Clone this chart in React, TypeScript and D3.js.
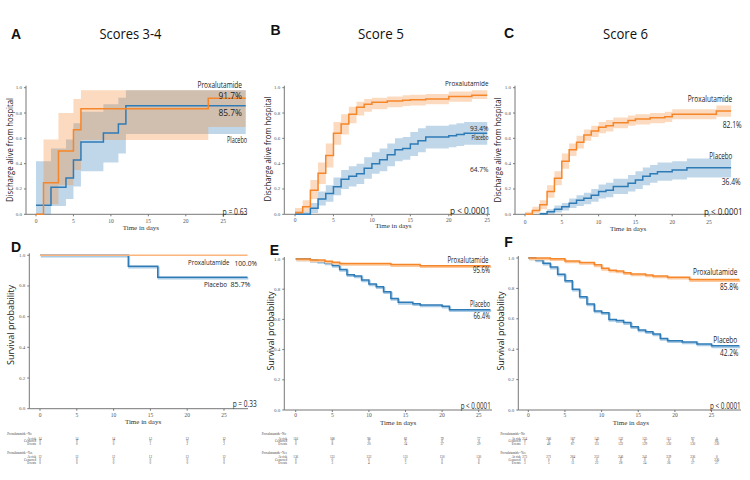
import React, { useEffect, useRef } from "react";
import * as d3 from "d3";

// ---- data ----
// A: scores 3-4, discharge alive from hospital
const aProxTimes = [0, 1, 3, 5, 6, 23];
const aProxSurv = [0, 0.25, 0.5, 0.667, 0.833, 0.917];
const aProxLower = [0, 0.08, 0.23, 0.35, 0.587, 0.69];
const aProxUpper = [0, 0.59, 0.8, 0.91, 0.98, 0.98];
const aPlacTimes = [0, 2, 4, 5, 6, 9, 11, 12];
const aPlacSurv = [0.071, 0.214, 0.286, 0.429, 0.571, 0.643, 0.714, 0.857];
const aPlacLower = [0, 0.066, 0.12, 0.22, 0.34, 0.41, 0.48, 0.634];
const aPlacUpper = [0.42, 0.52, 0.59, 0.72, 0.81, 0.87, 0.92, 0.98];

// B: score 5
const bProxTimes = [0, 1, 2, 3, 4, 5, 6, 7, 8, 9, 10, 12, 14, 15, 17, 20, 23];
const bProxSurv = [0.014, 0.06, 0.19, 0.325, 0.465, 0.64, 0.713, 0.79, 0.845, 0.87, 0.885, 0.895, 0.9, 0.905, 0.91, 0.93, 0.94];
const bProxLower = [0, 0.02, 0.12, 0.24, 0.37, 0.55, 0.63, 0.72, 0.78, 0.81, 0.83, 0.845, 0.855, 0.86, 0.87, 0.89, 0.91];
const bProxUpper = [0.05, 0.11, 0.27, 0.41, 0.56, 0.73, 0.79, 0.85, 0.89, 0.91, 0.92, 0.93, 0.94, 0.945, 0.95, 0.97, 0.98];
const bPlacTimes = [0, 2, 3, 4, 5, 6, 7, 8, 9, 10, 11, 12, 13, 14, 15, 16, 17, 20, 21, 22];
const bPlacSurv = [0, 0.047, 0.12, 0.165, 0.218, 0.276, 0.3, 0.32, 0.363, 0.4, 0.43, 0.47, 0.51, 0.52, 0.555, 0.58, 0.61, 0.62, 0.63, 0.64];
const bPlacLower = [0, 0.01, 0.07, 0.1, 0.15, 0.2, 0.22, 0.24, 0.28, 0.32, 0.34, 0.38, 0.42, 0.43, 0.46, 0.49, 0.52, 0.53, 0.54, 0.55];
const bPlacUpper = [0.02, 0.09, 0.18, 0.23, 0.29, 0.35, 0.38, 0.4, 0.45, 0.49, 0.52, 0.56, 0.6, 0.61, 0.65, 0.68, 0.7, 0.71, 0.72, 0.73];

// C: score 6
const cProxTimes = [0, 1, 2, 3, 4, 5, 6, 7, 8, 9, 10, 11, 12, 14, 15, 17, 19, 20, 26];
const cProxSurv = [0, 0.03, 0.075, 0.18, 0.285, 0.42, 0.51, 0.57, 0.626, 0.658, 0.687, 0.7, 0.724, 0.74, 0.753, 0.763, 0.77, 0.79, 0.815];
const cProxLower = [0, 0.01, 0.04, 0.13, 0.23, 0.36, 0.46, 0.52, 0.58, 0.61, 0.64, 0.655, 0.68, 0.7, 0.71, 0.72, 0.73, 0.75, 0.77];
const cProxUpper = [0.02, 0.06, 0.11, 0.23, 0.34, 0.48, 0.56, 0.62, 0.67, 0.7, 0.73, 0.745, 0.765, 0.78, 0.79, 0.8, 0.81, 0.83, 0.86];
const cPlacTimes = [2, 3, 4, 5, 6, 7, 8, 9, 10, 11, 12, 14, 15, 16, 17, 18, 20, 22];
const cPlacSurv = [0.005, 0.02, 0.04, 0.06, 0.087, 0.11, 0.126, 0.15, 0.18, 0.19, 0.22, 0.245, 0.27, 0.3, 0.32, 0.337, 0.35, 0.368];
const cPlacLower = [0, 0.005, 0.015, 0.03, 0.05, 0.065, 0.08, 0.1, 0.125, 0.135, 0.16, 0.18, 0.2, 0.23, 0.25, 0.265, 0.275, 0.29];
const cPlacUpper = [0.015, 0.04, 0.07, 0.09, 0.125, 0.15, 0.17, 0.2, 0.235, 0.25, 0.28, 0.31, 0.34, 0.37, 0.39, 0.41, 0.42, 0.44];

// D-F: survival probability
const dProxTimes = [0];
const dProxSurv = [1];
const dPlacTimes = [0, 12, 16];
const dPlacSurv = [1, 0.929, 0.857];
const eProxTimes = [0, 2, 4, 5, 6, 13, 17];
const eProxSurv = [1, 0.993, 0.985, 0.978, 0.971, 0.963, 0.956];
const ePlacTimes = [0, 2, 3, 4, 5, 6, 7, 8, 9, 10, 11, 12, 13, 14, 16, 17, 20, 21];
const ePlacSurv = [1, 0.991, 0.983, 0.974, 0.957, 0.93, 0.896, 0.887, 0.861, 0.835, 0.817, 0.783, 0.739, 0.713, 0.704, 0.696, 0.687, 0.664];
const fProxTimes = [0, 3, 5, 7, 9, 10, 11, 12, 13, 14, 16, 17, 19, 22];
const fProxSurv = [1, 0.995, 0.98, 0.97, 0.955, 0.932, 0.92, 0.914, 0.903, 0.895, 0.888, 0.882, 0.873, 0.858];
const fPlacTimes = [0, 1, 2, 3, 4, 5, 6, 7, 8, 9, 10, 11, 12, 13, 14, 15, 16, 17, 18, 19, 21, 23, 25];
const fPlacSurv = [1, 0.987, 0.965, 0.94, 0.893, 0.85, 0.794, 0.745, 0.697, 0.651, 0.64, 0.596, 0.588, 0.575, 0.548, 0.526, 0.515, 0.5, 0.471, 0.456, 0.447, 0.434, 0.422];

// risk tables
const riskRows = ["At risk", "Censored", "Events"];
const riskGroups = ["Proxalutamide=No", "Proxalutamide=Yes"];
const dNoRisk = [[14, 14, 14, 13, 12, 12], [0, 0, 0, 0, 0, 0], [0, 0, 0, 1, 2, 2]];
const dYesRisk = [[12, 12, 12, 12, 12, 12], [0, 0, 0, 0, 0, 0], [0, 0, 0, 0, 0, 0]];
const eNoRisk = [[116, 108, 96, 82, 79, 77], [0, 0, 0, 0, 0, 0], [0, 8, 20, 34, 37, 39]];
const eYesRisk = [[136, 133, 132, 131, 130, 130], [0, 0, 0, 0, 0, 0], [0, 3, 4, 5, 6, 6]];
const fNoRisk = [[254, 206, 167, 143, 132, 125, 115, 97, 0], [0, 0, 0, 0, 0, 0, 0, 0, 86], [1, 48, 87, 111, 122, 129, 130, 130, 130]];
const fYesRisk = [[273, 271, 264, 253, 246, 241, 239, 236, 0], [0, 0, 0, 0, 0, 0, 0, 0, 236], [3, 5, 11, 22, 28, 34, 36, 37, 37]];

const xTicks = [0, 5, 10, 15, 20, 25];
const yTicks = [0, 0.2, 0.4, 0.6, 0.8, 1.0];

const ORANGE = "#f5862a";
const BLUE = "#2f7bb6";
const SANS = "'Open Sans', 'Liberation Sans', sans-serif";
const SERIF = "'Liberation Serif', 'DejaVu Serif', serif";

const App = () => {
  const ref = useRef<SVGSVGElement>(null);

  useEffect(() => {
    const svg = d3.select(ref.current);
    svg.selectAll("*").remove();

    const label = (text, x, y, opts: any = {}) => {
      const t = svg
        .append("text")
        .attr("x", x)
        .attr("y", y)
        .attr("font-family", opts.family || SANS)
        .attr("font-size", opts.size || 8.5)
        .attr("font-weight", opts.weight || "normal")
        .attr("fill", opts.fill || "#222")
        .attr("text-anchor", opts.anchor || "start")
        .attr("dominant-baseline", "central")
        .text(text);
      if (opts.len) t.attr("textLength", opts.len).attr("lengthAdjust", "spacingAndGlyphs");
      if (opts.rotate) t.attr("transform", `rotate(-90,${x},${y})`);
      return t;
    };

    const drawPanel = (p, series, texts) => {
      const x = d3.scaleLinear().domain([0, 25]).range([p.x0, p.x0 + 25 * p.ppd]);
      const y = d3.scaleLinear().domain([0, 1]).range([p.yBottom, p.yTop]);
      const g = svg.append("g");

      // axes
      g.append("line").attr("x1", p.axisX).attr("x2", p.axisX).attr("y1", p.yTop - 2).attr("y2", p.yBottom).attr("stroke", "#777").attr("stroke-width", 1);
      g.append("line").attr("x1", p.axisX).attr("x2", p.xEnd).attr("y1", p.yBottom).attr("y2", p.yBottom).attr("stroke", "#777").attr("stroke-width", 1);
      xTicks.forEach((t) => {
        g.append("line").attr("x1", x(t)).attr("x2", x(t)).attr("y1", p.yBottom).attr("y2", p.yBottom + 2).attr("stroke", "#777");
        g.append("text").attr("x", x(t)).attr("y", p.tickY).attr("text-anchor", "middle").attr("dominant-baseline", "central")
          .attr("font-family", SERIF).attr("font-size", 5.5).attr("fill", "#555").text(t);
      });
      yTicks.forEach((v) => {
        g.append("line").attr("x1", p.axisX - 2).attr("x2", p.axisX).attr("y1", y(v)).attr("y2", y(v)).attr("stroke", "#777");
        g.append("text").attr("x", p.axisX - 4).attr("y", y(v)).attr("text-anchor", "end").attr("dominant-baseline", "central")
          .attr("font-family", SERIF).attr("font-size", 5).attr("fill", "#555").text(d3.format(".1f")(v));
      });
      label("Time in days", x(p.timeAt), p.timeY, { family: SERIF, size: 7, fill: "#333", anchor: "middle" });
      label(p.yTitle, p.yTitleX, p.yTitleY, { size: 9.5, anchor: "middle", rotate: true, len: p.yTitleLen, fill: "#222" });

      const stepLine = d3.line<number[]>().x((d) => x(d[0])).y((d) => y(d[1])).curve(d3.curveStepAfter);
      const stepArea = d3.area<number[]>().x((d) => x(d[0])).y0((d) => y(d[1])).y1((d) => y(d[2])).curve(d3.curveStepAfter);

      series.forEach((s) => {
        if (!s.lower) return;
        const pts = s.times.map((t, i) => [t, s.lower[i], s.upper[i]]);
        pts.push([s.end, s.lower[s.lower.length - 1], s.upper[s.upper.length - 1]]);
        g.append("path").attr("d", stepArea(pts)).attr("fill", s.color).attr("fill-opacity", 0.3).attr("stroke", "none");
      });
      series.forEach((s) => {
        const pts = s.times.map((t, i) => [t, s.surv[i]]);
        pts.push([s.end, s.surv[s.surv.length - 1]]);
        if (s.shadow) {
          g.append("path").attr("d", stepLine(pts)).attr("fill", "none").attr("stroke", s.shadow)
            .attr("stroke-width", 2).attr("transform", "translate(0.8,1.3)");
        }
        g.append("path").attr("d", stepLine(pts)).attr("fill", "none").attr("stroke", s.line || s.color).attr("stroke-width", 1.5);
      });

      texts.forEach((t) => label(t.text, t.x, t.y, { anchor: "end", len: t.w, size: t.size || 8.5 }));
    };

    const drawRisk = (xs, headX, labelX, tables) => {
      const rowY = [[434.3, 438.7, 441.4, 444], [453, 457.3, 460, 462.6]];
      tables.forEach((tab, b) => {
        label(riskGroups[b], headX, rowY[b][0], { family: SERIF, size: 3.2, fill: "#444" });
        riskRows.forEach((r, i) => {
          label(r, labelX, rowY[b][i + 1], { family: SERIF, size: 3.2, fill: "#444", anchor: "end" });
          tab[i].forEach((v, j) => {
            label(String(v), xs(j), rowY[b][i + 1], { family: SERIF, size: 3.2, fill: "#444", anchor: "middle" });
          });
        });
      });
    };

    const top = { yTop: 87.7, yBottom: 214.3 };
    const dischargeTitle = "Discharge alive from hospital";
    const survTitle = "Survival probability";

    // panel A
    drawPanel(
      { ...top, axisX: 26, x0: 36, ppd: 7.49, xEnd: 247, tickY: 221, timeY: 227.5, timeAt: 14, yTitle: dischargeTitle, yTitleX: 9, yTitleY: 150, yTitleLen: 104 },
      [
        { times: aPlacTimes, surv: aPlacSurv, lower: aPlacLower, upper: aPlacUpper, end: 28, color: BLUE },
        { times: aProxTimes, surv: aProxSurv, lower: aProxLower, upper: aProxUpper, end: 28, color: ORANGE },
      ],
      [
        { text: "Proxalutamide", x: 242, y: 84, w: 44.5 },
        { text: "91.7%", x: 242, y: 95, w: 23.5 },
        { text: "85.7%", x: 242, y: 112.5, w: 23.5 },
        { text: "Placebo", x: 247, y: 139, w: 20 },
        { text: "p = 0.63", x: 247.5, y: 211.5, w: 25 },
      ]
    );
    // panel B
    drawPanel(
      { ...top, axisX: 284.3, x0: 295, ppd: 7.69, xEnd: 490, tickY: 220, timeY: 226, timeAt: 12.8, yTitle: dischargeTitle, yTitleX: 267.5, yTitleY: 149, yTitleLen: 105 },
      [
        { times: bPlacTimes, surv: bPlacSurv, lower: bPlacLower, upper: bPlacUpper, end: 25, color: BLUE },
        { times: bProxTimes, surv: bProxSurv, lower: bProxLower, upper: bProxUpper, end: 25, color: ORANGE },
      ],
      [
        { text: "Proxalutamide", x: 488.5, y: 82.7, w: 43.5, size: 8 },
        { text: "93.4%", x: 488.5, y: 127.8, w: 18.5, size: 7.3 },
        { text: "Placebo", x: 488.5, y: 136.6, w: 17, size: 7.3 },
        { text: "64.7%", x: 488.5, y: 169.3, w: 18.5, size: 7.5 },
        { text: "p < 0.0001", x: 490, y: 210.5, w: 40 },
      ]
    );
    // panel C
    drawPanel(
      { ...top, axisX: 515, x0: 525, ppd: 7.36, xEnd: 732, tickY: 222.3, timeY: 229, timeAt: 14, yTitle: dischargeTitle, yTitleX: 497.5, yTitleY: 150, yTitleLen: 105 },
      [
        { times: cPlacTimes, surv: cPlacSurv, lower: cPlacLower, upper: cPlacUpper, end: 28, color: BLUE },
        { times: cProxTimes, surv: cProxSurv, lower: cProxLower, upper: cProxUpper, end: 28, color: ORANGE },
      ],
      [
        { text: "Proxalutamide", x: 732.3, y: 98.3, w: 44.6 },
        { text: "82.1%", x: 741.7, y: 124.3, w: 19 },
        { text: "Placebo", x: 732.3, y: 155, w: 23 },
        { text: "36.4%", x: 740.7, y: 181, w: 19 },
        { text: "p < 0.0001", x: 742.7, y: 211, w: 38.7 },
      ]
    );

    // panel D
    const pD = { axisX: 29.3, x0: 40, ppd: 7.36, xEnd: 248, yTop: 255.3, yBottom: 408.7, tickY: 415, timeY: 422, timeAt: 14, yTitle: survTitle, yTitleX: 10.7, yTitleY: 325, yTitleLen: 80 };
    drawPanel(
      pD,
      [
        { times: dPlacTimes, surv: dPlacSurv, end: 28.2, color: BLUE, shadow: "#a9cbe6" },
        { times: dProxTimes, surv: dProxSurv, end: 28.2, color: ORANGE, line: "#fbb47c" },
      ],
      [
        { text: "Proxalutamide", x: 229.5, y: 262, w: 41.5, size: 7.3 },
        { text: "100.0%", x: 257, y: 262.5, w: 22.5, size: 7.3 },
        { text: "Placebo", x: 227, y: 283.3, w: 23, size: 8 },
        { text: "85.7%", x: 250.5, y: 283.3, w: 20, size: 8 },
        { text: "p = 0.33", x: 256.7, y: 403, w: 24 },
      ]
    );
    // panel E
    const pE = { axisX: 284.3, x0: 295.7, ppd: 7.32, xEnd: 492, yTop: 259, yBottom: 410, tickY: 415.3, timeY: 423.3, timeAt: 14, yTitle: survTitle, yTitleX: 270.3, yTitleY: 331, yTitleLen: 79 };
    drawPanel(
      pE,
      [
        { times: ePlacTimes, surv: ePlacSurv, end: 26.6, color: BLUE, shadow: "#a9cbe6" },
        { times: eProxTimes, surv: eProxSurv, end: 26.6, color: ORANGE, shadow: "#fcc89c" },
      ],
      [
        { text: "Proxalutamide", x: 488.5, y: 259, w: 41 },
        { text: "95.6%", x: 490, y: 269.5, w: 17 },
        { text: "Placebo", x: 490, y: 303.3, w: 20 },
        { text: "66.4%", x: 490, y: 315, w: 16.5 },
        { text: "p < 0.0001", x: 490.7, y: 405, w: 30 },
      ]
    );
    // panel F
    const pF = { axisX: 518.3, x0: 528.3, ppd: 7.33, xEnd: 741, yTop: 258, yBottom: 410, tickY: 415.3, timeY: 423.3, timeAt: 14, yTitle: survTitle, yTitleX: 500.5, yTitleY: 331, yTitleLen: 79 };
    drawPanel(
      pF,
      [
        { times: fPlacTimes, surv: fPlacSurv, end: 28.8, color: BLUE, shadow: "#a9cbe6" },
        { times: fProxTimes, surv: fProxSurv, end: 28.8, color: ORANGE, shadow: "#fcc89c" },
      ],
      [
        { text: "Proxalutamide", x: 737.3, y: 271, w: 44.3 },
        { text: "85.8%", x: 738.3, y: 286, w: 18.3 },
        { text: "Placebo", x: 737.3, y: 339, w: 24 },
        { text: "42.2%", x: 738.3, y: 352.7, w: 18.3 },
        { text: "p < 0.0001", x: 740.7, y: 405, w: 30.7 },
      ]
    );

    // risk tables
    const xD = d3.scaleLinear().domain([0, 25]).range([pD.x0, pD.x0 + 25 * pD.ppd]);
    const xE = d3.scaleLinear().domain([0, 25]).range([pE.x0, pE.x0 + 25 * pE.ppd]);
    drawRisk((j) => xD(xTicks[j]), 7.3, 36, [dNoRisk, dYesRisk]);
    drawRisk((j) => xE(xTicks[j]), 261.7, 287, [eNoRisk, eYesRisk]);
    const fCols = d3.scaleLinear().domain([0, 8]).range([524.7, 716.7]);
    drawRisk((j) => fCols(j), 500.5, 520.5, [fNoRisk, fYesRisk]);

    // titles and panel letters
    label("Scores 3-4", 130.5, 32.5, { size: 15, anchor: "middle", len: 62, fill: "#111" });
    label("Score 5", 381, 32.5, { size: 15, anchor: "middle", len: 46, fill: "#111" });
    label("Score 6", 625.5, 32.5, { size: 15, anchor: "middle", len: 45, fill: "#111" });
    const letter = { size: 14, weight: "bold", anchor: "middle", family: "'Liberation Sans', sans-serif", fill: "#111" };
    label("A", 16, 34, letter);
    label("B", 275.5, 30, letter);
    label("C", 509, 32.5, letter);
    label("D", 16, 247, letter);
    label("E", 274.5, 249.5, letter);
    label("F", 508.5, 241.5, letter);
  }, []);

  return (
    <svg
      ref={ref}
      width={750}
      height={480}
      style={{ position: "absolute", left: 0, top: 0, background: "#fff" }}
    />
  );
};

export default App;
